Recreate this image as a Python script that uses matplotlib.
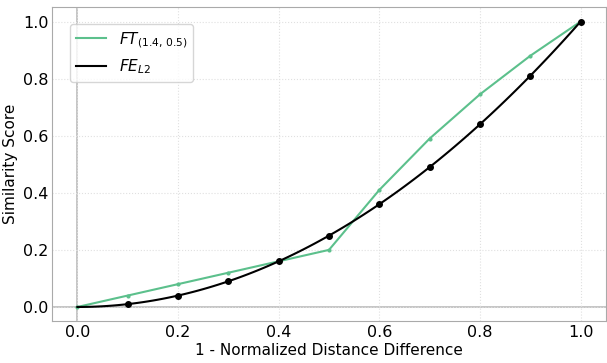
import numpy as np
import matplotlib.pyplot as plt

# similarity curves
x_pts = [0.0, 0.1, 0.2, 0.3, 0.4, 0.5, 0.6, 0.7, 0.8, 0.9, 1.0]
ft_vals = [0.0, 0.04, 0.08, 0.12, 0.16, 0.20, 0.41, 0.59, 0.745, 0.88, 1.0]
fe_marker_x = [0.1, 0.2, 0.3, 0.4, 0.5, 0.6, 0.7, 0.8, 0.9, 1.0]
fe_marker_y = [0.01, 0.04, 0.09, 0.16, 0.25, 0.36, 0.49, 0.64, 0.81, 1.0]
fe_curve_x = np.linspace(0, 1, 101)
fe_curve_y = fe_curve_x ** 2

fig, ax = plt.subplots(figsize=(6.07, 3.63), dpi=100)

ax.axhline(0, color='#bbbbbb', linewidth=1.2, zorder=0)
ax.axvline(0, color='#bbbbbb', linewidth=1.2, zorder=0)
ax.grid(True, linestyle=':', color='#e0e0e0', linewidth=0.8)

ax.plot(x_pts, ft_vals, color='#5cc08c', linewidth=1.5, marker='o', markersize=2)
ax.plot([], [], color='#5cc08c', linewidth=1.5, label=r'$FT_{(1.4,\,0.5)}$')
ax.plot(fe_curve_x, fe_curve_y, color='black', linewidth=1.5, label=r'$FE_{L2}$')
ax.plot(fe_marker_x, fe_marker_y, 'o', color='black', markersize=4)

ax.set_xlim(-0.05, 1.05)
ax.set_ylim(-0.05, 1.05)
ax.set_xticks([0.0, 0.2, 0.4, 0.6, 0.8, 1.0])
ax.set_yticks([0.0, 0.2, 0.4, 0.6, 0.8, 1.0])
ax.tick_params(labelsize=11.5, length=0, pad=2.5)
for sp in ax.spines.values():
    sp.set_color('#aaaaaa')

ax.set_xlabel('1 - Normalized Distance Difference', fontsize=11, labelpad=2)
ax.set_ylabel('Similarity Score', fontsize=11, labelpad=4)
ax.legend(loc='upper left', fontsize=11, bbox_to_anchor=(0.018, 0.97))

fig.subplots_adjust(left=0.086, right=0.998, top=0.98, bottom=0.115)
fig.savefig('out.png')
